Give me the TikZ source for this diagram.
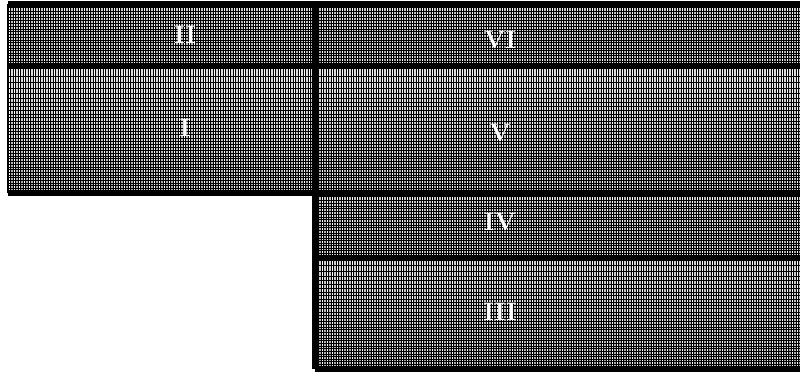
\documentclass[tikz,border=0pt]{standalone}
\usepackage{tikz}

\tikzset{
  meshfill/.style={top color=gray!45, bottom color=gray!70},
  meshline/.style={black, line width=0.45pt},
  gapline/.style={white, line width=0.35pt},
  wall/.style={black, line width=3pt},
  zonelabel/.style={text=white, font=\bfseries\Large}
}

% horizontal grid rows: x0, x1, y0, y1, count, grading power
\newcommand{\meshrows}[6]{%
  \foreach \i in {0,...,#5} {
    \pgfmathsetmacro\yy{#3+(#4-#3)*(\i/#5)^#6}
    \draw[meshline] (#1,\yy) -- (#2,\yy);
  }
}

\begin{document}
\begin{tikzpicture}[x=0.02cm, y=-0.02cm]
		\useasboundingbox (0,0) rectangle (800,374);
		
		% shaded blocks
		\shade[meshfill] (8,4) rectangle (315,66);
		\shade[meshfill] (315,4) rectangle (800,66);
		\shade[top color=gray!25, bottom color=gray!70] (8,66) rectangle (315,193);
		\shade[top color=gray!25, bottom color=gray!70] (315,66) rectangle (800,193);
		\shade[meshfill] (315,193) rectangle (800,258);
		\shade[top color=gray!35, bottom color=gray!70] (315,258) rectangle (800,369);
		
		% vertical grid lines
		\foreach \x in {8,10.5,...,315}
		\draw[meshline] (\x,4) -- (\x,193);
		\foreach \x in {316,318.5,...,800}
		\draw[meshline] (\x,4) -- (\x,369);
		\foreach \x in {9.2,14.2,...,315}
		\draw[gapline] (\x,4) -- (\x,193);
		\foreach \x in {317.2,322.2,...,800}
		\draw[gapline] (\x,4) -- (\x,369);
		
		% horizontal grid lines
		\meshrows{8}{800}{4}{66}{22}{0.9}
		\meshrows{8}{800}{66}{193}{36}{0.7}
		\meshrows{315}{800}{193}{258}{24}{0.9}
		\meshrows{315}{800}{258}{369}{34}{0.75}
		
		% block walls
		\draw[wall] (8,4) -- (800,4);
		\draw[wall] (8,66) -- (800,66);
		\draw[wall] (8,193) -- (800,193);
		\draw[wall] (315,258) -- (800,258);
		\draw[wall] (315,369) -- (800,369);
		\draw[wall] (315,4) -- (315,369);
		\draw[line width=1pt] (8,4) -- (8,193);
		
		\node[zonelabel] (zII) at (185,35) {II};
		\node[zonelabel] (zI) at (185,128) {I};
		\node[zonelabel] (zVI) at (500,40) {VI};
		\node[zonelabel] (zV) at (500,133) {V};
		\node[zonelabel] (zIV) at (500,222) {IV};
		\node[zonelabel] (zIII) at (500,312) {III};
	\end{tikzpicture}
\end{document}
